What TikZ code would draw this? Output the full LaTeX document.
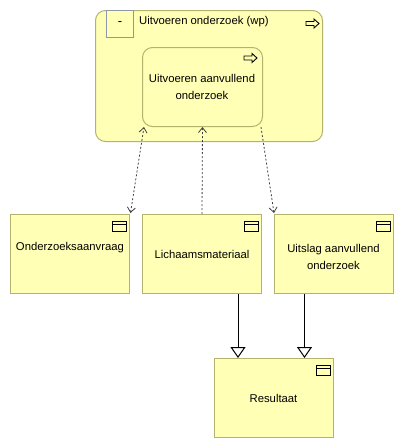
\documentclass[tikz,border=0pt]{standalone}
\usepackage{fontspec}
\setmainfont{Liberation Sans}
\usetikzlibrary{arrows.meta,calc,positioning}
\definecolor{bizfill}{HTML}{FFFFB5}
\definecolor{bizline}{HTML}{B3B36E}
\definecolor{tagline}{HTML}{8C99AA}
\definecolor{dots}{HTML}{404040}
\tikzset{
    wp/.style =     {rectangle,
                    rounded corners=10pt,
                    fill=bizfill,
                    draw=bizline,
                    line width=1pt,
                    inner sep=0pt,
                    anchor=north west},
    object/.style = {rectangle,
                    fill=bizfill,
                    draw=bizline,
                    line width=1pt,
                    inner sep=0pt,
                    anchor=north west,
                    minimum width=119pt,
                    minimum height=79pt},
    txt/.style =    {align=center,
                    inner sep=0pt,
                    text=black,
                    font=\fontsize{11.3}{17}\selectfont},
    access/.style = {draw=dots,
                    line width=0.8pt,
                    dash pattern=on 2pt off 2pt,
                    >={Straight Barb[length=5pt,width=8pt,line width=0.8pt]}},
    spec/.style =   {draw=black,
                    line width=1pt,
                    -{Triangle[fill=white,length=11pt,width=15pt,line width=1pt]}},
    icon/.style =   {draw=black,
                    line width=1pt,
                    fill=none}
}
% small object symbol in the top right corner
\newcommand{\objicon}[1]{%
    \draw[icon] ($(#1.north east)+(-18,7)$) rectangle ($(#1.north east)+(-4,17)$);
    \draw[icon] ($(#1.north east)+(-18,10)$) -- ($(#1.north east)+(-4,10)$);}
% hollow process arrow
\newcommand{\procicon}[1]{%
    \draw[icon,line width=0.9pt] ($#1+(0,-2)$) -- ++(8,0) -- ++(0,-2.5) -- ++(5,4.5)
        -- ++(-5,4.5) -- ++(0,-2.5) -- ++(-8,0) -- cycle;}

\begin{document}
\begin{tikzpicture}[x=1pt,y=-1pt]
            \useasboundingbox (0,0) rectangle (404,448);

            \node[wp,minimum width=227pt,minimum height=131pt] (WP) at (95,10) {};
            \node[draw=tagline,line width=1pt,fill=bizfill,inner sep=0pt,anchor=north west,
                  minimum width=27pt,minimum height=27pt] (TAG) at (106,10) {};
            \node[txt,font=\fontsize{13}{15}\selectfont] (MIN) at (TAG.center) {-};
            \node[txt,anchor=west]        (TITLE) at (139,22)      {Uitvoeren onderzoek (wp)};
            \procicon{(306,23.5)}

            \node[wp,minimum width=120pt,minimum height=79pt] (UAO) at (142,47) {};
            \node[txt]                    (UAOT)  at (202,86.5)    {Uitvoeren aanvullend\\onderzoek};
            \procicon{(244,58)}

            \node[object]                 (OA)    at (10,214)      {};
            \node[object]                 (LM)    at (142,214)     {};
            \node[object]                 (US)    at (274,214)     {};
            \node[object]                 (RES)   at (214,358)     {};

            \node[txt]                    (OAT)   at (70,248)      {Onderzoeksaanvraag};
            \node[txt]                    (LMT)   at (202,254)     {Lichaamsmateriaal};
            \node[txt]                    (UST)   at (333.5,256.5) {Uitslag aanvullend\\onderzoek};
            \node[txt]                    (REST)  at (273.5,398)   {Resultaat};

            \objicon{OA}
            \objicon{LM}
            \objicon{US}
            \objicon{RES}

            \draw[access,<->] ([xshift=0.5pt,yshift=1pt]OA.north east) -- ([xshift=2pt]UAO.south west);
            \draw[access,->]  (LM.north) -- (UAO.south);
            \draw[access,->]  ([xshift=-2pt]UAO.south east) -- ([yshift=1pt]US.north west);

            \draw[spec] ([xshift=36pt]LM.south) -- ([xshift=36pt]LM.south |- RES.north);
            \draw[spec] ([xshift=-29.5pt]US.south) -- ([xshift=-29.5pt]US.south |- RES.north);
        \end{tikzpicture}
\end{document}
